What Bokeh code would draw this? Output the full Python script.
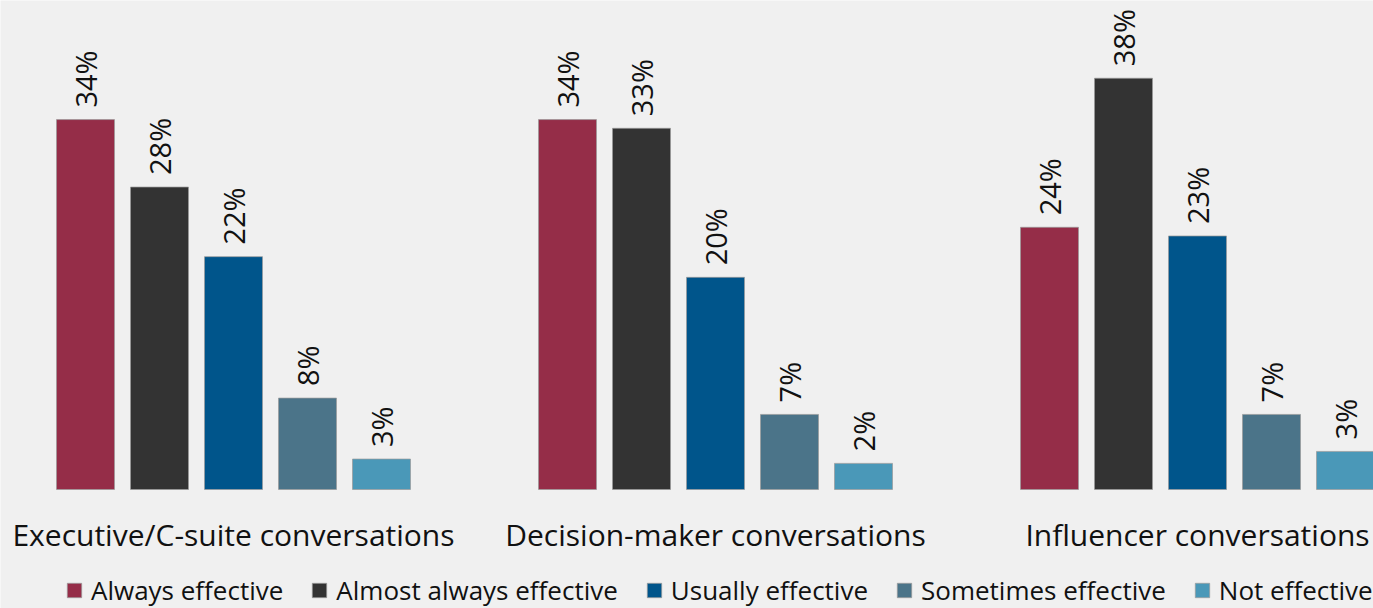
from bokeh.plotting import figure
from bokeh.models import ColumnDataSource, Range1d, Legend, LegendItem
from bokeh.transform import dodge
from bokeh.core.properties import value
from bokeh.embed import file_html
from bokeh.resources import INLINE

categories = ["Executive/C-suite conversations", "Decision-maker conversations", "Influencer conversations"]
series = ["Always effective", "Almost always effective", "Usually effective", "Sometimes effective", "Not effective"]
always = [34.0, 34.0, 24.1]
almost_always = [27.8, 33.2, 37.8]
usually = [21.4, 19.5, 23.3]
sometimes = [8.4, 6.9, 6.9]
not_effective = [2.8, 2.4, 3.5]
labels = {
    "Always effective": ["34%", "34%", "24%"],
    "Almost always effective": ["28%", "33%", "38%"],
    "Usually effective": ["22%", "20%", "23%"],
    "Sometimes effective": ["8%", "7%", "7%"],
    "Not effective": ["3%", "2%", "3%"],
}
colors = ["#952d48", "#333333", "#00558b", "#4b7489", "#4a98b8"]

FONT = "Open Sans"

data = {"x": list(range(len(categories))), "cat": categories}
cols = ["always", "almost_always", "usually", "sometimes", "not_effective"]
for c, vals in zip(cols, [always, almost_always, usually, sometimes, not_effective]):
    data[c] = vals
for c, s in zip(cols, series):
    data[c + "_lbl"] = labels[s]
data["zero"] = [0] * len(categories)
src = ColumnDataSource(data)

W, H = 1373, 608
px_per_unit_x = 482.0
px_per_pct = 10.88
x0 = 233.0
base = 489.0

p = figure(width=W, height=H, output_backend="svg", toolbar_location=None,
           x_range=Range1d(-x0 / px_per_unit_x, (W - x0) / px_per_unit_x),
           y_range=Range1d(-(H - base) / px_per_pct, base / px_per_pct),
           min_border=0, outline_line_color=None,
           background_fill_color="#f0f0f0", border_fill_color="#f0f0f0")
p.axis.visible = False
p.grid.visible = False

step = 74.0 / px_per_unit_x
bw = 58.0 / px_per_unit_x
items = []
for i, (c, s, col) in enumerate(zip(cols, series, colors)):
    off = (i - 2) * step
    r = p.vbar(x=dodge("x", off, range=p.x_range), top=c, width=bw, source=src,
               fill_color=col, line_color="#9a9a9a", line_width=1, line_alpha=0.7)
    items.append(LegendItem(label=s, renderers=[r]))
    p.text(x=dodge("x", off, range=p.x_range), y=c, text=c + "_lbl", source=src,
           angle=1.5708, text_align="left", text_baseline="middle",
           x_offset=0, y_offset=-12,
           text_font=value(FONT), text_font_size="29px", text_color="#111111")

p.text(x="x", y="zero", text="cat", source=src, text_align="center",
       text_baseline="middle", y_offset=45,
       text_font=value(FONT), text_font_size="30px", text_color="#111111")

legend = Legend(items=items, orientation="horizontal", location=(65, 0),
                glyph_width=18, glyph_height=18, label_standoff=8, spacing=27,
                padding=0, margin=0, border_line_color=None,
                background_fill_alpha=0,
                label_text_font=FONT, label_text_font_size="26px", label_text_color="#111111")
p.add_layout(legend)

open("out.html", "w").write(file_html(p, INLINE))
